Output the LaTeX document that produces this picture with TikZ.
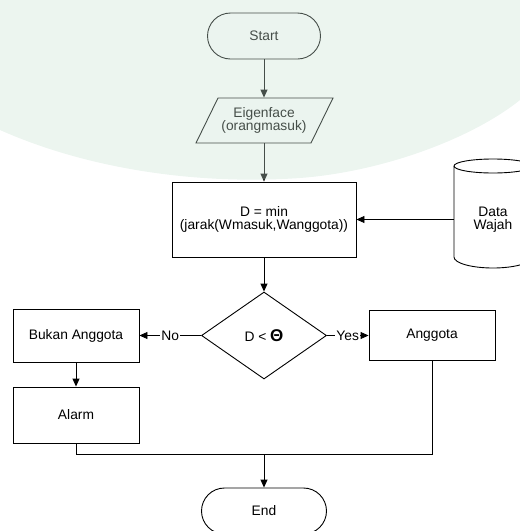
\documentclass[tikz,border=0pt]{standalone}
\usepackage{fontspec}
\setmainfont{Liberation Sans}
\usetikzlibrary{arrows.meta,shapes.geometric}
\definecolor{tint}{RGB}{200,225,210}
\begin{document}
\begin{tikzpicture}[x=1pt,y=-1pt,
  font=\fontsize{13.8}{13.5}\selectfont,
  line width=0.9pt,
  box/.style={draw, fill=white, rectangle, inner sep=0pt, align=center},
  term/.style={box, rounded corners=23pt},
  link/.style={-{Triangle[length=8pt,width=7pt]}},
  lbl/.style={fill=white, inner sep=1pt}
]
\useasboundingbox (0,0) rectangle (520,531);

% Start
\node[term, minimum width=113pt, minimum height=46pt] (start) at (264,36) {Start};

% Eigenface (parallelogram)
\draw[fill=white] (218,98) -- (333,98) -- (311,143) -- (196,143) -- cycle;
\node[inner sep=0pt, minimum width=137pt, minimum height=45pt, align=center] (eig) at (264,120.5) {Eigenface\\(orangmasuk)};

% Process
\node[box, minimum width=184pt, minimum height=75pt] (proc) at (264,219.5) {D = min\\(jarak(Wmasuk,Wanggota))};

% Data Wajah (cylinder)
\draw[fill=white] (454,166) -- (454,257) .. controls (454,263.1) and (471.5,268) .. (493,268)
  .. controls (514.5,268) and (532,263.1) .. (532,257) -- (532,166)
  .. controls (532,162.1) and (514.5,159) .. (493,159)
  .. controls (471.5,159) and (454,162.1) .. (454,166) -- cycle;
\draw (454,166) .. controls (454,169.9) and (471.5,173) .. (493,173)
  .. controls (514.5,173) and (532,169.9) .. (532,166);
\node[inner sep=0pt, minimum width=78pt, align=center] (data) at (493,219.5) {Data\\Wajah};

% Decision
\node[draw, fill=white, diamond, minimum width=125pt, minimum height=87pt, inner sep=0pt] (dec) at (264,335.5) {D < {\fontsize{17}{17}\selectfont\bfseries Θ}};

% Outcomes
\node[box, minimum width=126pt, minimum height=53pt] (bukan) at (76,335.5) {Bukan Anggota};
\node[box, minimum width=126pt, minimum height=50pt] (anggota) at (432,335.5) {Anggota};
\node[box, minimum width=126pt, minimum height=56pt] (alarm) at (76,415) {Alarm};

% End
\node[term, minimum width=125pt, minimum height=46pt] (end) at (264,511) {End};
\coordinate (merge) at (264,454);

% Connectors
\draw[link] (start.south) -- (eig.north);
\draw[link] (eig.south) -- (proc.north);
\draw[link] (data.west) -- (proc.east);
\draw[link] (proc.south) -- (dec.north);
\draw[link] (dec.west) -- node[lbl]{No} (bukan.east);
\draw[link] (dec.east) -- node[lbl]{Yes} (anggota.west);
\draw[link] (bukan.south) -- (alarm.north);
\draw (alarm.south) |- (merge);
\draw (anggota.south) |- (merge);
\draw[link] (merge) -- (end.north);

% Watermark tint
\fill[tint, opacity=0.35] (0,0) -- (520,0) -- (520,100) .. controls (470,140) and (380,172) .. (300,178)
  .. controls (200,185) and (90,170) .. (0,130) -- cycle;
\end{tikzpicture}
\end{document}
